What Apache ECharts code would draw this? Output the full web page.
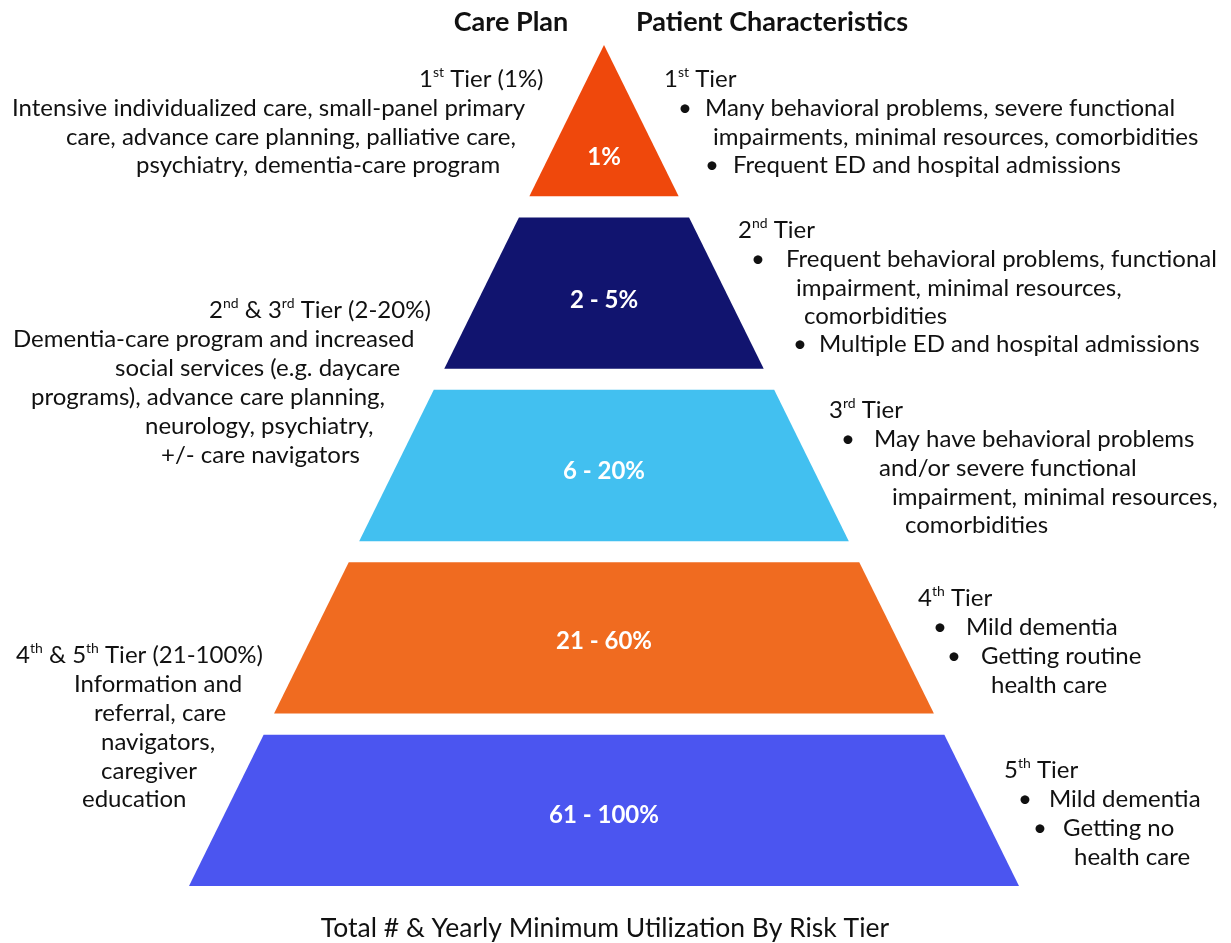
<!DOCTYPE html>
<html>
<head>
<meta charset="utf-8">
<script src="https://cdn.jsdelivr.net/npm/echarts@6/dist/echarts.min.js"></script>
<style>
  html, body { margin: 0; padding: 0; background: #fff; }
  #main { width: 1231px; height: 943px; }
</style>
</head>
<body>
<div id="main"></div>
<script>
// pyramid bands, depth measured from the apex (band height = 1)
const bandLabels = ['1%', '2 - 5%', '6 - 20%', '21 - 60%', '61 - 100%']
const bandTop = [0, 1.14, 2.28, 3.42, 4.56]
const bandBottom = [1, 2.14, 3.28, 4.42, 5.56]
const labelDepth = [0.74, 1.69, 2.82, 3.94, 5.09]
const bandColors = ['#EF480C', '#11146F', '#42C0F0', '#F06B20', '#4B55F0']
const DEPTH = 5.56

// side notes: [left x, middle y, text]
const careNotes = [
  [419, 79, '1{s|st} Tier (1%)'],
  [12, 108, 'Intensive individualized care, small-panel primary'],
  [66, 137, 'care, advance care planning, palliative care,'],
  [136, 165, 'psychiatry, dementia-care program'],
  [209, 310, '2{s|nd} & 3{s|rd} Tier (2-20%)'],
  [13, 339, 'Dementia-care program and increased'],
  [115, 368, 'social services (e.g. daycare'],
  [31, 397, 'programs), advance care planning,'],
  [145, 426, 'neurology, psychiatry,'],
  [161, 455, '+/- care navigators'],
  [16, 655, '4{s|th} & 5{s|th} Tier (21-100%)'],
  [74, 684, 'Information and'],
  [94, 713, 'referral, care'],
  [101, 742, 'navigators,'],
  [101, 771, 'caregiver'],
  [82, 799, 'education']
]
const patientNotes = [
  [664, 79, '1{s|st} Tier'],
  [705, 108, 'Many behavioral problems, severe functional'],
  [713, 137, 'impairments, minimal resources, comorbidities'],
  [733, 165, 'Frequent ED and hospital admissions'],
  [738, 230, '2{s|nd} Tier'],
  [786, 259, 'Frequent behavioral problems, functional'],
  [796, 288, 'impairment, minimal resources,'],
  [804, 316, 'comorbidities'],
  [819, 344, 'Multiple ED and hospital admissions'],
  [829, 410, '3{s|rd} Tier'],
  [874, 439, 'May have behavioral problems'],
  [879, 468, 'and/or severe functional'],
  [892, 497, 'impairment, minimal resources,'],
  [905, 525, 'comorbidities'],
  [918, 598, '4{s|th} Tier'],
  [966, 627, 'Mild dementia'],
  [981, 656, 'Getting routine'],
  [991, 685, 'health care'],
  [1004, 770, '5{s|th} Tier'],
  [1049, 799, 'Mild dementia'],
  [1063, 828, 'Getting no'],
  [1074, 857, 'health care']
]
const bullets = [
  [685, 108], [712, 165], [758, 259], [800, 344], [848, 439],
  [940, 627], [954, 656], [1025, 799], [1040, 828]
]

const FONT = 'Lato, "Open Sans", sans-serif'

const noteText = (n) => ({
  type: 'text',
  x: n[0],
  y: n[1],
  silent: true,
  style: {
    text: n[2],
    fill: '#111',
    font: '24px ' + FONT,
    lineHeight: 28,
    align: 'left',
    textAlign: 'left',
    verticalAlign: 'middle',
    textVerticalAlign: 'middle',
    rich: {
      s: { fontSize: 14, fontFamily: FONT, lineHeight: 24, verticalAlign: 'top' }
    }
  }
})

const centerText = (x, y, text, font) => ({
  type: 'text',
  x: x,
  y: y,
  silent: true,
  style: {
    text: text,
    fill: '#111',
    font: font,
    align: 'center',
    textAlign: 'center',
    verticalAlign: 'middle',
    textVerticalAlign: 'middle'
  }
})

const graphics = [
  centerText(511, 22, 'Care Plan', 'bold 27px ' + FONT),
  centerText(772, 22, 'Patient Characteristics', 'bold 27px ' + FONT),
  centerText(605, 928, 'Total # & Yearly Minimum Utilization By Risk Tier', '26.5px ' + FONT)
]
  .concat(careNotes.map(noteText))
  .concat(patientNotes.map(noteText))
  .concat(bullets.map(b => centerText(b[0], b[1], '•', '24px ' + FONT)))

const myChart = echarts.init(document.getElementById('main'))
const option = {
  animation: false,
  backgroundColor: '#fff',
  grid: { left: 189, width: 830, top: 45, height: 841 },
  xAxis: { type: 'value', min: -1, max: 1, show: false },
  yAxis: { type: 'value', min: 0, max: DEPTH, inverse: true, show: false },
  graphic: graphics,
  series: [
    {
      type: 'custom',
      coordinateSystem: 'cartesian2d',
      silent: true,
      data: bandTop.map((t, i) => [t, bandBottom[i], labelDepth[i]]),
      renderItem: (params, api) => {
        const top = api.value(0)
        const bottom = api.value(1)
        const pts = [
          [-top / DEPTH, top],
          [top / DEPTH, top],
          [bottom / DEPTH, bottom],
          [-bottom / DEPTH, bottom]
        ].map(p => api.coord(p))
        const c = api.coord([0, api.value(2)])
        return {
          type: 'group',
          children: [
            {
              type: 'polygon',
              shape: { points: pts },
              style: { fill: bandColors[params.dataIndex] }
            },
            {
              type: 'text',
              x: c[0],
              y: c[1],
              style: {
                text: bandLabels[params.dataIndex],
                fill: '#fff',
                font: 'bold 24px ' + FONT,
                align: 'center',
                verticalAlign: 'middle'
              }
            }
          ]
        }
      }
    }
  ]
}
myChart.setOption(option)
</script>
</body>
</html>
